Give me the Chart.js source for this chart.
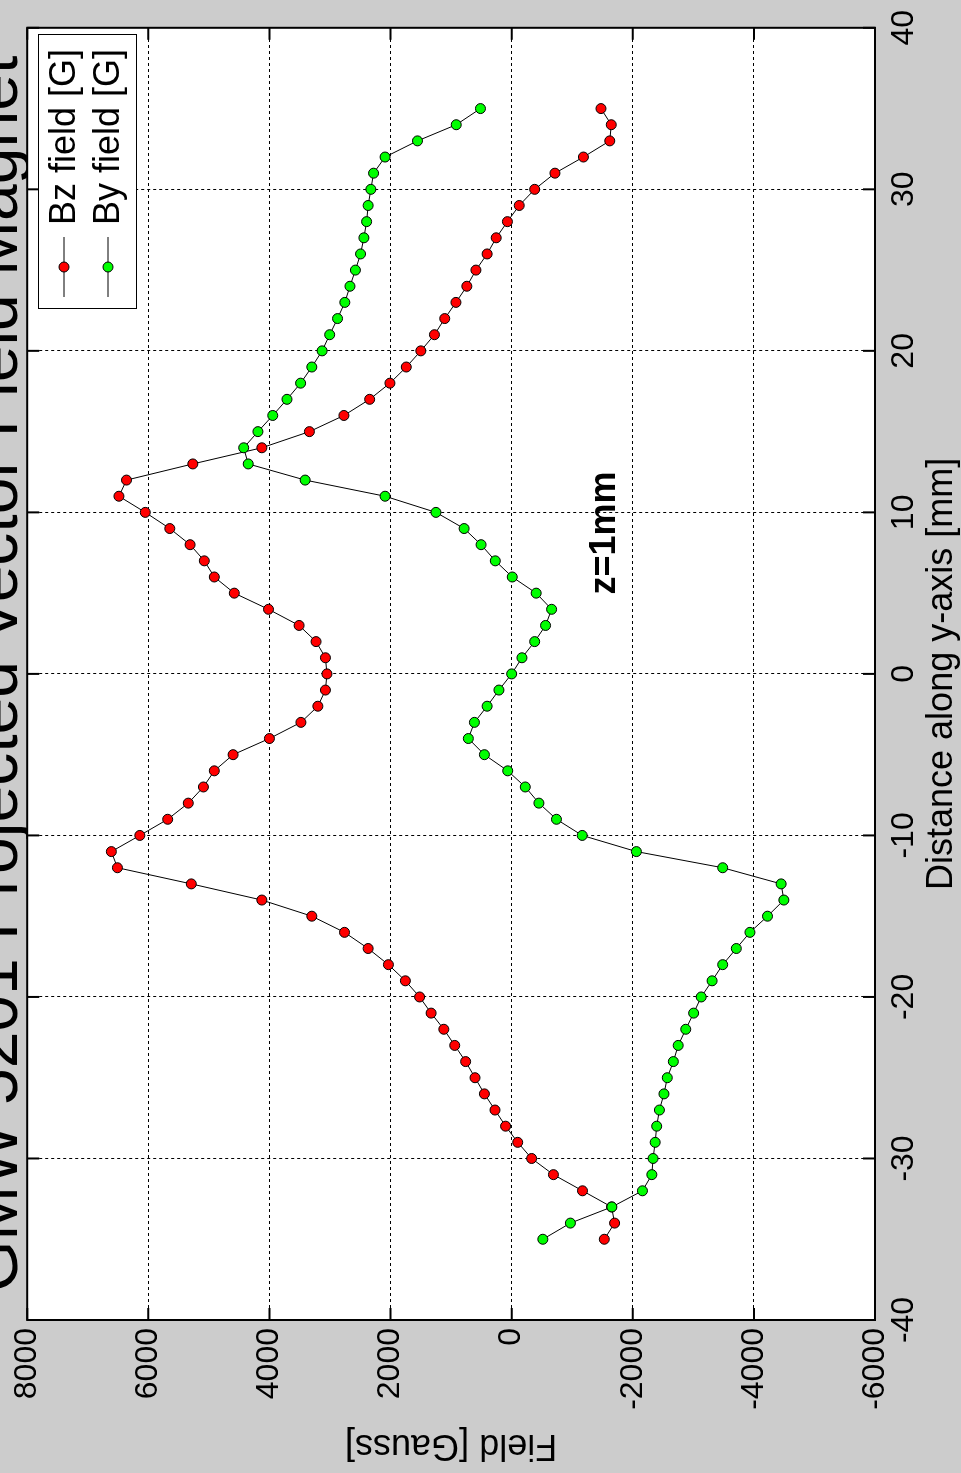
<!DOCTYPE html>
<html>
<head>
<meta charset="utf-8">
<script src="https://cdn.jsdelivr.net/npm/chart.js@4/dist/chart.umd.min.js"></script>
<style>
  html, body { margin: 0; padding: 0; background: #cccccc; overflow: hidden; }
  #frame { position: relative; width: 961px; height: 1473px; overflow: hidden; background: #cccccc; }
  /* the figure is drawn landscape and turned a quarter turn counter-clockwise */
  #rot { position: absolute; left: 0; top: 0; width: 1473px; height: 961px;
         transform-origin: 0 0; transform: translate(0px, 1473px) rotate(-90deg); }
</style>
</head>
<body>
<div id="frame"><div id="rot"><canvas id="fieldChart" width="1473" height="961"></canvas></div></div>
<script>
// Distance along y-axis [mm]
const positions = [-35, -34, -33, -32, -31, -30, -29, -28, -27, -26, -25, -24, -23, -22, -21, -20,
  -19, -18, -17, -16, -15, -14, -13, -12, -11, -10, -9, -8, -7, -6, -5, -4, -3, -2, -1, 0,
  1, 2, 3, 4, 5, 6, 7, 8, 9, 10, 11, 12, 13, 14, 15, 16, 17, 18, 19, 20,
  21, 22, 23, 24, 25, 26, 27, 28, 29, 30, 31, 32, 33, 34, 35];

// Bz field [G]
const bzField = [-1530, -1700, -1650, -1170, -690, -330, -100, 100, 275, 450, 605, 760, 940, 1120, 1330, 1520,
  1755, 2035, 2370, 2760, 3300, 4125, 5290, 6510, 6610, 6140, 5680, 5340, 5090, 4910, 4600, 4000, 3480, 3200, 3075, 3050,
  3075, 3230, 3510, 4015, 4580, 4910, 5075, 5310, 5645, 6050, 6485, 6360, 5265, 4125, 3340, 2770, 2345, 2010, 1740, 1500,
  1275, 1105, 920, 740, 590, 405, 255, 70, -125, -380, -715, -1185, -1620, -1645, -1475];

// By field [G]
const byField = [-515, -970, -1655, -2160, -2315, -2335, -2370, -2395, -2440, -2515, -2570, -2670, -2750, -2875, -3005, -3130,
  -3310, -3485, -3710, -3935, -4225, -4495, -4450, -3485, -2060, -1165, -740, -450, -225, 65, 450, 715, 615, 405, 210, 0,
  -170, -380, -560, -660, -405, -10, 270, 505, 785, 1250, 2090, 3410, 4350, 4425, 4190, 3945, 3710, 3485, 3300, 3130,
  3005, 2875, 2755, 2670, 2580, 2495, 2440, 2395, 2370, 2325, 2280, 2090, 1555, 915, 515];

const xTickValues = [-40, -30, -20, -10, 0, 10, 20, 30, 40];
const yTickValues = [-6000, -4000, -2000, 0, 2000, 4000, 6000, 8000];

const FONT = '"Liberation Sans", Arial, sans-serif';

// white axes box, inward ticks on all sides, legend and the texts
const decor = {
  id: 'decor',
  beforeDraw(chart) {
    const { ctx, chartArea: a } = chart;
    ctx.save();
    // title, mostly cut off by the figure edge (drawn under the axes box)
    ctx.fillStyle = '#000';
    ctx.textAlign = 'center';
    ctx.textBaseline = 'alphabetic';
    ctx.font = '66px ' + FONT;
    ctx.fillText('GMW 5201 Projected Vector Field Magnet', (a.left + a.right) / 2, 17);
    ctx.fillStyle = '#ffffff';
    ctx.fillRect(a.left, a.top, a.right - a.left, a.bottom - a.top);
    ctx.restore();
  },
  afterDraw(chart) {
    const { ctx, chartArea: a, scales } = chart;
    const tick = 12;
    ctx.save();
    ctx.strokeStyle = '#000';
    ctx.lineWidth = 2;
    ctx.beginPath();
    xTickValues.forEach(v => {
      const px = scales.x.getPixelForValue(v);
      ctx.moveTo(px, a.bottom); ctx.lineTo(px, a.bottom - tick);
      ctx.moveTo(px, a.top); ctx.lineTo(px, a.top + tick);
    });
    yTickValues.forEach(v => {
      const py = scales.y.getPixelForValue(v);
      ctx.moveTo(a.left, py); ctx.lineTo(a.left + tick, py);
      ctx.moveTo(a.right, py); ctx.lineTo(a.right - tick, py);
    });
    ctx.stroke();
    ctx.strokeRect(a.left, a.top, a.right - a.left, a.bottom - a.top);

    // legend box
    const lx = 1164, ly = 38, lw = 274, lh = 98;
    ctx.fillStyle = '#ffffff';
    ctx.fillRect(lx, ly, lw, lh);
    ctx.lineWidth = 1;
    ctx.strokeRect(lx + 0.5, ly + 0.5, lw, lh);
    const entries = [
      { label: 'Bz field [G]', color: '#ff0000', v: 64 },
      { label: 'By field [G]', color: '#00ff00', v: 108 }
    ];
    ctx.font = '36px ' + FONT;
    ctx.textAlign = 'left';
    ctx.textBaseline = 'middle';
    entries.forEach(e => {
      ctx.strokeStyle = '#000';
      ctx.lineWidth = 1;
      ctx.beginPath();
      ctx.moveTo(1176, e.v); ctx.lineTo(1236, e.v);
      ctx.stroke();
      ctx.beginPath();
      ctx.arc(1206, e.v, 5, 0, Math.PI * 2);
      ctx.fillStyle = e.color;
      ctx.fill();
      ctx.stroke();
      ctx.fillStyle = '#000';
      ctx.fillText(e.label, 1248, e.v + 1);
    });

    ctx.fillStyle = '#000';
    ctx.textAlign = 'center';
    ctx.textBaseline = 'alphabetic';

    // x axis label
    ctx.font = '36px ' + FONT;
    ctx.fillText('Distance along y-axis [mm]', (a.left + a.right) / 2, 952);

    // y axis label
    ctx.save();
    ctx.translate(38, (a.top + a.bottom) / 2);
    ctx.rotate(-Math.PI / 2);
    ctx.font = '36px ' + FONT;
    ctx.fillText('Field [Gauss]', 0, 0);
    ctx.restore();

    // annotation
    ctx.font = 'bold 36px ' + FONT;
    ctx.textBaseline = 'middle';
    ctx.fillText('z=1mm', 940, 605);
    ctx.restore();
  }
};

const ctx = document.getElementById('fieldChart').getContext('2d');

const chart = new Chart(ctx, {
  type: 'line',
  data: {
    datasets: [
      {
        label: 'Bz field [G]',
        data: positions.map((p, i) => ({ x: p, y: bzField[i] })),
        borderColor: '#000000',
        borderWidth: 1,
        pointBackgroundColor: '#ff0000',
        pointBorderColor: '#000000',
        pointBorderWidth: 1,
        pointRadius: 5,
        tension: 0,
        fill: false,
        order: 1
      },
      {
        label: 'By field [G]',
        data: positions.map((p, i) => ({ x: p, y: byField[i] })),
        borderColor: '#000000',
        borderWidth: 1,
        pointBackgroundColor: '#00ff00',
        pointBorderColor: '#000000',
        pointBorderWidth: 1,
        pointRadius: 5,
        tension: 0,
        fill: false,
        order: 0
      }
    ]
  },
  options: {
    responsive: false,
    animation: false,
    layout: { padding: { top: 26, right: 27, left: 0, bottom: 0 } },
    plugins: {
      legend: { display: false },
      tooltip: { enabled: false },
      title: { display: false }
    },
    scales: {
      x: {
        type: 'linear',
        min: -40,
        max: 40,
        afterBuildTicks: s => { s.ticks = xTickValues.map(v => ({ value: v })); },
        afterFit: s => { s.height = 86; },
        ticks: {
          color: '#000',
          font: { family: FONT, size: 32 },
          padding: 10,
          maxRotation: 0,
          callback: v => String(v)
        },
        grid: { color: '#000', lineWidth: 1, drawTicks: false },
        border: { display: false, dash: [3, 3] }
      },
      y: {
        type: 'linear',
        min: -6000,
        max: 8000,
        afterBuildTicks: s => { s.ticks = yTickValues.map(v => ({ value: v })); },
        afterFit: s => { s.width = 153; },
        ticks: {
          color: '#000',
          font: { family: FONT, size: 32 },
          padding: 8,
          callback: v => String(v)
        },
        grid: { color: '#000', lineWidth: 1, drawTicks: false },
        border: { display: false, dash: [3, 3] }
      }
    }
  },
  plugins: [decor]
});
</script>
</body>
</html>
